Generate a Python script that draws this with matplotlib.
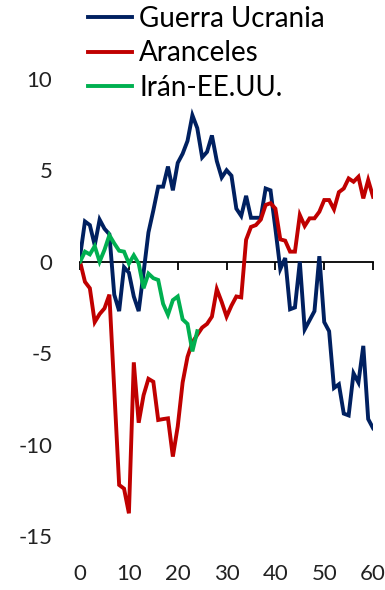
import matplotlib.pyplot as plt
import numpy as np

plt.rcParams['font.family'] = ['Lato', 'DejaVu Sans']
plt.rcParams['axes.unicode_minus'] = False

# monthly index, 0..60
guerra_ucrania = [0.3, 2.2, 2.0, 0.9, 2.3, 1.8, 1.5, -1.8, -2.7, -0.3,
                  -0.6, -1.9, -2.7, -0.6, 1.6, 2.8, 4.1, 4.1, 5.2, 3.9,
                  5.4, 5.9, 6.6, 8.0, 7.3, 5.7, 6.0, 6.9, 5.5, 4.6,
                  5.0, 4.7, 2.9, 2.5, 3.6, 2.4, 2.4, 2.4, 4.0, 3.9,
                  1.8, -0.4, 0.2, -2.6, -2.5, 0.0, -3.7, -3.2, -2.7, 0.3,
                  -3.3, -3.8, -6.9, -6.7, -8.3, -8.4, -6.1, -6.6, -4.6, -8.6,
                  -9.1]
aranceles = [0.0, -1.1, -1.45, -3.3, -2.86, -2.55, -1.8, -7.0, -12.2, -12.4,
             -13.75, -5.5, -8.8, -7.3, -6.4, -6.56, -8.65, -8.6, -8.56, -10.65,
             -9.0, -6.6, -5.2, -4.4, -4.0, -3.6, -3.4, -3.0, -1.5, -2.2,
             -3.0, -2.4, -1.9, -1.95, 1.2, 1.9, 2.0, 2.3, 3.1, 3.2,
             2.9, 1.22, 1.15, 0.55, 0.55, 2.55, 1.95, 2.37, 2.37, 2.73,
             3.37, 3.37, 2.86, 3.8, 4.0, 4.55, 4.37, 4.64, 3.46, 4.46,
             3.55]
iran_eeuu = [0.0, 0.55, 0.4, 0.85, 0.0, 0.65, 1.45, 1.0, 0.6, 0.55,
             -0.1, 0.35, -0.1, -1.45, -0.65, -0.9, -1.0, -2.3, -2.9, -2.1,
             -1.9, -3.15, -3.4, -4.9, -3.8]

series = [("Guerra Ucrania", guerra_ucrania, "#002060"),
          ("Aranceles", aranceles, "#C00000"),
          ("Irán-EE.UU.", iran_eeuu, "#00B050")]

xticks = [0, 10, 20, 30, 40, 50, 60]
yticks = [-15, -10, -5, 0, 5, 10]

fig = plt.figure(figsize=(3.85, 5.9), dpi=100)
ax = fig.add_axes([0.208, 0.0912, 0.761, 0.7754])

for name, vals, col in series:
    ax.plot(np.arange(len(vals)), vals, color=col, lw=2.8, label=name,
            zorder=3, solid_joinstyle="miter")

ax.set_xlim(0, 60)
ax.set_ylim(-15, 10)
ax.set_yticks(yticks)
ax.set_xticks(xticks)

for s in ["top", "right", "left"]:
    ax.spines[s].set_visible(False)
ax.spines["bottom"].set_position(("data", 0))
ax.spines["bottom"].set_linewidth(1.3)
ax.spines["bottom"].set_zorder(2)

ax.tick_params(axis="y", length=0, pad=20, labelsize=16, labelcolor="#222222")
ax.tick_params(axis="x", direction="out", length=6, width=1.3, labelbottom=False)

# x labels sit below the plot area, not on the zero line
for x in xticks:
    ax.text(x, -0.083, str(x), transform=ax.get_xaxis_transform(),
            ha="center", va="center", fontsize=16, color="#222222", clip_on=False)

fig.legend(loc="upper left", bbox_to_anchor=(0.228, 0.99), frameon=False,
           fontsize=20, handlelength=1.6, handletextpad=0.25,
           labelspacing=0.3, borderpad=0.0, borderaxespad=0.0)

fig.savefig("out.png", dpi=100)
